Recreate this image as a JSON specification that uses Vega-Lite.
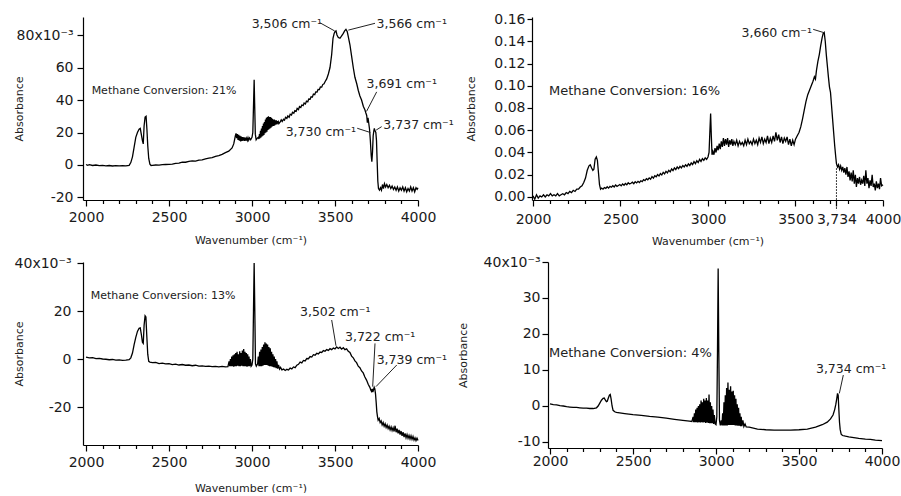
{
"$schema": "https://vega.github.io/schema/vega-lite/v6.json",
"padding": {"left": 13, "top": 12, "right": 0, "bottom": 0},
"config": {
  "view": {"stroke": null},
  "font": "DejaVu Sans",
  "axis": {"grid": false, "domainColor": "#000", "tickColor": "#000", "labelColor": "#1a1a1a", "titleColor": "#222", "labelFont": "DejaVu Sans", "titleFont": "DejaVu Sans", "labelFontSize": 14, "titleFontSize": 11, "titleFontWeight": "normal", "labelOverlap": false, "labelFlush": false, "labelBound": false, "domainWidth": 1.2, "tickWidth": 1.2}
},
"datasets": {
"p1": [{"w":2000,"a":0.3},{"w":2010,"a":-0.2},{"w":2020,"a":0.2},{"w":2040,"a":-0.3},{"w":2060,"a":0},{"w":2080,"a":-0.4},{"w":2100,"a":-0.2},{"w":2120,"a":-0.5},{"w":2140,"a":-0.3},{"w":2160,"a":-0.6},{"w":2180,"a":-0.4},{"w":2200,"a":-0.5},{"w":2220,"a":-0.4},{"w":2240,"a":-0.5},{"w":2260,"a":-0.2},{"w":2270,"a":1.5},{"w":2280,"a":5},{"w":2290,"a":11},{"w":2300,"a":17},{"w":2310,"a":20},{"w":2320,"a":22},{"w":2327,"a":22.5},{"w":2333,"a":19},{"w":2340,"a":15},{"w":2345,"a":13},{"w":2350,"a":24},{"w":2356,"a":29.5},{"w":2362,"a":30},{"w":2367,"a":22},{"w":2372,"a":12},{"w":2378,"a":4},{"w":2385,"a":0.5},{"w":2392,"a":-0.3},{"w":2400,"a":-0.2},{"w":2420,"a":0},{"w":2440,"a":-0.1},{"w":2460,"a":0.2},{"w":2480,"a":0.3},{"w":2500,"a":0.4},{"w":2520,"a":0.6},{"w":2540,"a":1},{"w":2560,"a":1.2},{"w":2580,"a":1.8},{"w":2600,"a":1.7},{"w":2620,"a":2.2},{"w":2640,"a":2.5},{"w":2660,"a":2.4},{"w":2680,"a":3},{"w":2700,"a":3.2},{"w":2720,"a":3.8},{"w":2740,"a":4.2},{"w":2760,"a":4.5},{"w":2780,"a":5.3},{"w":2800,"a":5.8},{"w":2820,"a":6.5},{"w":2840,"a":7.6},{"w":2860,"a":8.5},{"w":2880,"a":10.5},{"w":2890,"a":13},{"w":2900,"a":18},{"w":2904,"a":19.5},{"w":2908,"a":16.5},{"w":2912,"a":19},{"w":2916,"a":15.5},{"w":2920,"a":18.5},{"w":2924,"a":15},{"w":2928,"a":18},{"w":2932,"a":14.5},{"w":2936,"a":17.5},{"w":2940,"a":14.8},{"w":2944,"a":17.2},{"w":2948,"a":15},{"w":2952,"a":17},{"w":2956,"a":14.8},{"w":2960,"a":16.8},{"w":2964,"a":15},{"w":2968,"a":16.5},{"w":2972,"a":15.2},{"w":2976,"a":16.8},{"w":2980,"a":15.3},{"w":2985,"a":16.6},{"w":2992,"a":15.5},{"w":3000,"a":17},{"w":3005,"a":20},{"w":3010,"a":40},{"w":3013,"a":52.5},{"w":3016,"a":38},{"w":3020,"a":19},{"w":3025,"a":15.5},{"w":3032,"a":16.5},{"w":3038,"a":17},{"w":3042,"a":16},{"w":3045,"a":19},{"w":3048,"a":16.5},{"w":3051,"a":21},{"w":3054,"a":17},{"w":3057,"a":22.5},{"w":3060,"a":17.5},{"w":3063,"a":24},{"w":3066,"a":18},{"w":3069,"a":25.5},{"w":3072,"a":18.5},{"w":3075,"a":26.5},{"w":3078,"a":19.5},{"w":3081,"a":28},{"w":3084,"a":20},{"w":3087,"a":29},{"w":3090,"a":20.5},{"w":3093,"a":29.5},{"w":3096,"a":21.5},{"w":3099,"a":30},{"w":3102,"a":22},{"w":3105,"a":29.5},{"w":3108,"a":22.5},{"w":3111,"a":29.5},{"w":3114,"a":23},{"w":3117,"a":29},{"w":3120,"a":23.5},{"w":3123,"a":28.5},{"w":3126,"a":24},{"w":3129,"a":28},{"w":3132,"a":24},{"w":3135,"a":28},{"w":3138,"a":24.5},{"w":3141,"a":27.5},{"w":3144,"a":25},{"w":3147,"a":27.5},{"w":3150,"a":25},{"w":3153,"a":27},{"w":3156,"a":25.5},{"w":3159,"a":26.5},{"w":3162,"a":25.5},{"w":3170,"a":26.5},{"w":3176,"a":27.8},{"w":3182,"a":26.8},{"w":3190,"a":28.2},{"w":3196,"a":27.6},{"w":3202,"a":29.3},{"w":3210,"a":28.7},{"w":3216,"a":30.2},{"w":3224,"a":29.4},{"w":3230,"a":31.3},{"w":3238,"a":30.8},{"w":3244,"a":32.5},{"w":3252,"a":31.9},{"w":3258,"a":33.4},{"w":3266,"a":33},{"w":3272,"a":34.8},{"w":3280,"a":34.1},{"w":3286,"a":36},{"w":3294,"a":35.4},{"w":3300,"a":36.9},{"w":3308,"a":36.5},{"w":3314,"a":38.2},{"w":3322,"a":37.6},{"w":3328,"a":39.3},{"w":3336,"a":38.9},{"w":3342,"a":40.6},{"w":3350,"a":40.5},{"w":3356,"a":42},{"w":3364,"a":41.8},{"w":3370,"a":43.6},{"w":3378,"a":43.3},{"w":3384,"a":45},{"w":3392,"a":44.9},{"w":3398,"a":46.5},{"w":3406,"a":46.4},{"w":3412,"a":48},{"w":3420,"a":47.9},{"w":3426,"a":49.5},{"w":3434,"a":50},{"w":3440,"a":51.2},{"w":3450,"a":53},{"w":3460,"a":56},{"w":3470,"a":60},{"w":3480,"a":68},{"w":3488,"a":78},{"w":3495,"a":81},{"w":3500,"a":82},{"w":3506,"a":82.5},{"w":3512,"a":80},{"w":3520,"a":78.5},{"w":3530,"a":78},{"w":3540,"a":79.5},{"w":3550,"a":81},{"w":3558,"a":82.5},{"w":3566,"a":83.5},{"w":3574,"a":82},{"w":3580,"a":79},{"w":3590,"a":74},{"w":3600,"a":67},{"w":3610,"a":60},{"w":3620,"a":54},{"w":3631,"a":50},{"w":3640,"a":46},{"w":3650,"a":42.5},{"w":3660,"a":40},{"w":3671,"a":36},{"w":3680,"a":34},{"w":3686,"a":32},{"w":3691,"a":30.5},{"w":3695,"a":26},{"w":3699,"a":29},{"w":3703,"a":26},{"w":3708,"a":22},{"w":3713,"a":15},{"w":3718,"a":6},{"w":3722,"a":2},{"w":3726,"a":8},{"w":3730,"a":18},{"w":3734,"a":21},{"w":3737,"a":22.5},{"w":3741,"a":21},{"w":3746,"a":20},{"w":3750,"a":15},{"w":3754,"a":2},{"w":3758,"a":-10},{"w":3762,"a":-14.5},{"w":3768,"a":-15.5},{"w":3774,"a":-14},{"w":3780,"a":-15.5},{"w":3786,"a":-12},{"w":3792,"a":-14.5},{"w":3798,"a":-11.5},{"w":3805,"a":-13.5},{"w":3812,"a":-12},{"w":3820,"a":-14},{"w":3828,"a":-12.5},{"w":3836,"a":-14.5},{"w":3844,"a":-13},{"w":3852,"a":-15},{"w":3860,"a":-13.5},{"w":3868,"a":-15.5},{"w":3876,"a":-13.5},{"w":3884,"a":-16},{"w":3892,"a":-14},{"w":3900,"a":-15.5},{"w":3908,"a":-13.5},{"w":3916,"a":-16},{"w":3924,"a":-14},{"w":3932,"a":-16.5},{"w":3940,"a":-14.5},{"w":3948,"a":-16},{"w":3956,"a":-13.5},{"w":3964,"a":-16},{"w":3972,"a":-14},{"w":3980,"a":-16.5},{"w":3988,"a":-14},{"w":3995,"a":-15},{"w":4000,"a":-14}],
"p2": [{"w":2000,"a":0.001},{"w":2010,"a":-0.002},{"w":2020,"a":0.002},{"w":2030,"a":-0.001},{"w":2040,"a":0.001},{"w":2050,"a":0.0},{"w":2060,"a":0.002},{"w":2070,"a":0.0},{"w":2080,"a":0.002},{"w":2090,"a":0.001},{"w":2100,"a":0.003},{"w":2110,"a":0.001},{"w":2120,"a":0.002},{"w":2130,"a":0.001},{"w":2140,"a":0.003},{"w":2150,"a":0.001},{"w":2160,"a":0.002},{"w":2170,"a":0.003},{"w":2180,"a":0.002},{"w":2190,"a":0.004},{"w":2200,"a":0.003},{"w":2210,"a":0.005},{"w":2220,"a":0.004},{"w":2230,"a":0.006},{"w":2240,"a":0.005},{"w":2250,"a":0.007},{"w":2260,"a":0.007},{"w":2270,"a":0.009},{"w":2280,"a":0.010},{"w":2290,"a":0.013},{"w":2300,"a":0.017},{"w":2310,"a":0.024},{"w":2320,"a":0.028},{"w":2327,"a":0.029},{"w":2335,"a":0.026},{"w":2342,"a":0.024},{"w":2348,"a":0.025},{"w":2355,"a":0.034},{"w":2362,"a":0.036},{"w":2368,"a":0.033},{"w":2374,"a":0.022},{"w":2380,"a":0.011},{"w":2386,"a":0.007},{"w":2392,"a":0.008},{"w":2400,"a":0.0070},{"w":2408,"a":0.0085},{"w":2416,"a":0.0078},{"w":2424,"a":0.0092},{"w":2432,"a":0.0080},{"w":2440,"a":0.0095},{"w":2448,"a":0.0088},{"w":2456,"a":0.0101},{"w":2464,"a":0.0090},{"w":2472,"a":0.0108},{"w":2480,"a":0.0096},{"w":2488,"a":0.0104},{"w":2496,"a":0.0112},{"w":2504,"a":0.0100},{"w":2512,"a":0.0118},{"w":2520,"a":0.0106},{"w":2528,"a":0.0121},{"w":2536,"a":0.0110},{"w":2544,"a":0.0128},{"w":2552,"a":0.0117},{"w":2560,"a":0.0124},{"w":2568,"a":0.0133},{"w":2576,"a":0.0120},{"w":2584,"a":0.0138},{"w":2592,"a":0.0127},{"w":2600,"a":0.0141},{"w":2608,"a":0.0130},{"w":2616,"a":0.0146},{"w":2624,"a":0.0139},{"w":2632,"a":0.0156},{"w":2640,"a":0.0148},{"w":2648,"a":0.0165},{"w":2656,"a":0.0155},{"w":2664,"a":0.0172},{"w":2672,"a":0.0160},{"w":2680,"a":0.0184},{"w":2688,"a":0.0170},{"w":2696,"a":0.0192},{"w":2704,"a":0.0181},{"w":2712,"a":0.0201},{"w":2720,"a":0.0189},{"w":2728,"a":0.0210},{"w":2736,"a":0.0198},{"w":2744,"a":0.0222},{"w":2752,"a":0.0208},{"w":2760,"a":0.0231},{"w":2768,"a":0.0217},{"w":2776,"a":0.0240},{"w":2784,"a":0.0226},{"w":2792,"a":0.0252},{"w":2800,"a":0.0238},{"w":2808,"a":0.0262},{"w":2816,"a":0.0247},{"w":2824,"a":0.0270},{"w":2832,"a":0.0255},{"w":2840,"a":0.0276},{"w":2848,"a":0.0262},{"w":2856,"a":0.0283},{"w":2864,"a":0.0270},{"w":2872,"a":0.0290},{"w":2880,"a":0.0276},{"w":2888,"a":0.0298},{"w":2896,"a":0.0283},{"w":2904,"a":0.0306},{"w":2912,"a":0.0292},{"w":2920,"a":0.0318},{"w":2928,"a":0.0300},{"w":2936,"a":0.0326},{"w":2944,"a":0.0310},{"w":2952,"a":0.0338},{"w":2960,"a":0.0320},{"w":2968,"a":0.0345},{"w":2976,"a":0.0330},{"w":2984,"a":0.0352},{"w":2992,"a":0.0338},{"w":3000,"a":0.0360},{"w":3006,"a":0.040},{"w":3011,"a":0.060},{"w":3015,"a":0.075},{"w":3019,"a":0.055},{"w":3023,"a":0.038},{"w":3028,"a":0.041},{"w":3034,"a":0.038},{"w":3040,"a":0.044},{"w":3046,"a":0.040},{"w":3052,"a":0.046},{"w":3058,"a":0.042},{"w":3064,"a":0.048},{"w":3070,"a":0.043},{"w":3076,"a":0.050},{"w":3082,"a":0.045},{"w":3088,"a":0.053},{"w":3094,"a":0.046},{"w":3100,"a":0.052},{"w":3106,"a":0.047},{"w":3112,"a":0.053},{"w":3118,"a":0.045},{"w":3124,"a":0.051},{"w":3130,"a":0.047},{"w":3136,"a":0.052},{"w":3142,"a":0.046},{"w":3148,"a":0.050},{"w":3156,"a":0.047},{"w":3164,"a":0.051},{"w":3172,"a":0.046},{"w":3180,"a":0.050},{"w":3188,"a":0.047},{"w":3196,"a":0.049},{"w":3204,"a":0.046},{"w":3212,"a":0.051},{"w":3220,"a":0.047},{"w":3228,"a":0.052},{"w":3236,"a":0.048},{"w":3244,"a":0.050},{"w":3252,"a":0.047},{"w":3260,"a":0.052},{"w":3268,"a":0.048},{"w":3276,"a":0.051},{"w":3284,"a":0.047},{"w":3292,"a":0.053},{"w":3300,"a":0.049},{"w":3308,"a":0.054},{"w":3316,"a":0.048},{"w":3324,"a":0.052},{"w":3332,"a":0.049},{"w":3340,"a":0.055},{"w":3348,"a":0.048},{"w":3356,"a":0.053},{"w":3364,"a":0.049},{"w":3372,"a":0.055},{"w":3380,"a":0.050},{"w":3388,"a":0.058},{"w":3396,"a":0.051},{"w":3404,"a":0.056},{"w":3412,"a":0.049},{"w":3420,"a":0.054},{"w":3428,"a":0.048},{"w":3436,"a":0.053},{"w":3444,"a":0.050},{"w":3452,"a":0.054},{"w":3460,"a":0.047},{"w":3468,"a":0.052},{"w":3476,"a":0.046},{"w":3484,"a":0.051},{"w":3492,"a":0.047},{"w":3500,"a":0.052},{"w":3510,"a":0.055},{"w":3520,"a":0.058},{"w":3530,"a":0.063},{"w":3540,"a":0.070},{"w":3550,"a":0.078},{"w":3560,"a":0.086},{"w":3570,"a":0.092},{"w":3580,"a":0.096},{"w":3590,"a":0.100},{"w":3600,"a":0.104},{"w":3608,"a":0.108},{"w":3614,"a":0.106},{"w":3620,"a":0.114},{"w":3628,"a":0.122},{"w":3636,"a":0.128},{"w":3644,"a":0.136},{"w":3652,"a":0.143},{"w":3658,"a":0.147},{"w":3664,"a":0.148},{"w":3670,"a":0.140},{"w":3676,"a":0.128},{"w":3682,"a":0.118},{"w":3688,"a":0.108},{"w":3694,"a":0.099},{"w":3700,"a":0.094},{"w":3706,"a":0.082},{"w":3712,"a":0.070},{"w":3718,"a":0.058},{"w":3724,"a":0.046},{"w":3730,"a":0.036},{"w":3734,"a":0.030},{"w":3740,"a":0.027},{"w":3746,"a":0.029},{"w":3752,"a":0.025},{"w":3758,"a":0.028},{"w":3764,"a":0.024},{"w":3770,"a":0.027},{"w":3776,"a":0.022},{"w":3782,"a":0.026},{"w":3788,"a":0.020},{"w":3794,"a":0.027},{"w":3800,"a":0.018},{"w":3806,"a":0.023},{"w":3812,"a":0.015},{"w":3818,"a":0.022},{"w":3824,"a":0.014},{"w":3830,"a":0.024},{"w":3836,"a":0.012},{"w":3842,"a":0.020},{"w":3848,"a":0.009},{"w":3854,"a":0.017},{"w":3860,"a":0.012},{"w":3866,"a":0.018},{"w":3872,"a":0.011},{"w":3878,"a":0.015},{"w":3884,"a":0.012},{"w":3890,"a":0.019},{"w":3896,"a":0.010},{"w":3902,"a":0.024},{"w":3908,"a":0.012},{"w":3914,"a":0.017},{"w":3920,"a":0.008},{"w":3926,"a":0.015},{"w":3932,"a":0.010},{"w":3938,"a":0.020},{"w":3944,"a":0.009},{"w":3950,"a":0.012},{"w":3956,"a":0.006},{"w":3962,"a":0.014},{"w":3968,"a":0.008},{"w":3974,"a":0.012},{"w":3980,"a":0.007},{"w":3986,"a":0.017},{"w":3992,"a":0.010},{"w":4000,"a":0.011}],
"p3": [{"w":2000,"a":0.8},{"w":2020,"a":0.5},{"w":2040,"a":0.6},{"w":2060,"a":0.2},{"w":2080,"a":0.3},{"w":2100,"a":0},{"w":2120,"a":-0.1},{"w":2140,"a":-0.3},{"w":2160,"a":-0.2},{"w":2180,"a":-0.5},{"w":2200,"a":-0.4},{"w":2220,"a":-0.6},{"w":2240,"a":-0.5},{"w":2260,"a":-0.3},{"w":2270,"a":0.5},{"w":2280,"a":2.5},{"w":2290,"a":6},{"w":2300,"a":9},{"w":2310,"a":11.5},{"w":2320,"a":12.8},{"w":2327,"a":13},{"w":2334,"a":10},{"w":2340,"a":7},{"w":2345,"a":6.5},{"w":2350,"a":14},{"w":2356,"a":18},{"w":2361,"a":17.5},{"w":2366,"a":10},{"w":2372,"a":2},{"w":2378,"a":-1},{"w":2385,"a":-1.3},{"w":2400,"a":-1.5},{"w":2420,"a":-1.4},{"w":2440,"a":-1.9},{"w":2460,"a":-1.7},{"w":2480,"a":-2},{"w":2500,"a":-1.9},{"w":2520,"a":-2.3},{"w":2540,"a":-2.1},{"w":2560,"a":-2.5},{"w":2580,"a":-2.3},{"w":2600,"a":-2.6},{"w":2620,"a":-2.5},{"w":2640,"a":-2.8},{"w":2660,"a":-2.6},{"w":2680,"a":-3},{"w":2700,"a":-2.9},{"w":2720,"a":-3.1},{"w":2740,"a":-3},{"w":2760,"a":-3.2},{"w":2780,"a":-3.1},{"w":2800,"a":-3.3},{"w":2820,"a":-3.1},{"w":2840,"a":-3.3},{"w":2855,"a":-3.2},{"w":2862,"a":-1},{"w":2866,"a":-3},{"w":2870,"a":0},{"w":2874,"a":-3},{"w":2878,"a":1},{"w":2882,"a":-3},{"w":2886,"a":1.5},{"w":2890,"a":-3.2},{"w":2894,"a":2},{"w":2898,"a":-3},{"w":2902,"a":2.5},{"w":2906,"a":-3},{"w":2910,"a":3},{"w":2914,"a":-2.8},{"w":2918,"a":2},{"w":2922,"a":-3},{"w":2926,"a":3.2},{"w":2930,"a":-3},{"w":2934,"a":2.5},{"w":2938,"a":-2.8},{"w":2942,"a":3.5},{"w":2946,"a":-3},{"w":2950,"a":4.2},{"w":2954,"a":-3},{"w":2958,"a":3},{"w":2962,"a":-3},{"w":2966,"a":2.5},{"w":2970,"a":-3.2},{"w":2974,"a":2},{"w":2978,"a":-3},{"w":2982,"a":1},{"w":2986,"a":-3},{"w":2990,"a":0},{"w":2995,"a":-3},{"w":3000,"a":-2.5},{"w":3005,"a":0},{"w":3009,"a":20},{"w":3013,"a":40},{"w":3017,"a":20},{"w":3021,"a":-2},{"w":3026,"a":-3},{"w":3034,"a":-2},{"w":3038,"a":1},{"w":3042,"a":-3},{"w":3046,"a":3},{"w":3050,"a":-3},{"w":3054,"a":4},{"w":3058,"a":-3},{"w":3062,"a":5},{"w":3066,"a":-2.8},{"w":3070,"a":6},{"w":3074,"a":-2.5},{"w":3078,"a":7},{"w":3082,"a":-2.5},{"w":3086,"a":6.5},{"w":3090,"a":-2.5},{"w":3094,"a":6},{"w":3098,"a":-2.8},{"w":3102,"a":5},{"w":3106,"a":-3},{"w":3110,"a":4.5},{"w":3114,"a":-3},{"w":3118,"a":3},{"w":3122,"a":-3.2},{"w":3126,"a":2},{"w":3130,"a":-3.4},{"w":3134,"a":1},{"w":3138,"a":-3.5},{"w":3142,"a":0},{"w":3146,"a":-3.8},{"w":3150,"a":-1},{"w":3155,"a":-4},{"w":3160,"a":-2.5},{"w":3166,"a":-4.2},{"w":3172,"a":-3.5},{"w":3180,"a":-4.5},{"w":3190,"a":-4.2},{"w":3200,"a":-4.8},{"w":3210,"a":-4.3},{"w":3220,"a":-4.6},{"w":3230,"a":-3.8},{"w":3240,"a":-4.1},{"w":3250,"a":-3.3},{"w":3260,"a":-3.6},{"w":3270,"a":-2.6},{"w":3280,"a":-2.2},{"w":3290,"a":-1.3},{"w":3300,"a":-1.6},{"w":3310,"a":-0.6},{"w":3320,"a":-0.8},{"w":3330,"a":0.2},{"w":3340,"a":0.1},{"w":3350,"a":1},{"w":3360,"a":0.8},{"w":3370,"a":1.8},{"w":3380,"a":1.6},{"w":3390,"a":2.4},{"w":3400,"a":2.1},{"w":3410,"a":2.9},{"w":3420,"a":2.7},{"w":3430,"a":3.5},{"w":3440,"a":3.2},{"w":3450,"a":3.9},{"w":3460,"a":3.6},{"w":3470,"a":4.3},{"w":3480,"a":3.9},{"w":3490,"a":4.6},{"w":3500,"a":4.2},{"w":3510,"a":5},{"w":3520,"a":4.4},{"w":3530,"a":4.9},{"w":3540,"a":4.1},{"w":3550,"a":4.7},{"w":3560,"a":3.9},{"w":3570,"a":4.2},{"w":3580,"a":3.2},{"w":3590,"a":2.7},{"w":3600,"a":1.2},{"w":3610,"a":0.5},{"w":3620,"a":-0.8},{"w":3630,"a":-1.5},{"w":3640,"a":-3},{"w":3650,"a":-3.6},{"w":3660,"a":-5},{"w":3670,"a":-5.8},{"w":3680,"a":-7.5},{"w":3690,"a":-8.8},{"w":3700,"a":-10.5},{"w":3710,"a":-11.8},{"w":3716,"a":-13},{"w":3720,"a":-13.5},{"w":3724,"a":-12.5},{"w":3728,"a":-13.8},{"w":3732,"a":-12.8},{"w":3736,"a":-11.8},{"w":3740,"a":-12.5},{"w":3744,"a":-14.5},{"w":3748,"a":-18},{"w":3752,"a":-22},{"w":3756,"a":-24},{"w":3760,"a":-25.5},{"w":3766,"a":-24.8},{"w":3772,"a":-26.5},{"w":3778,"a":-25.8},{"w":3784,"a":-27.5},{"w":3790,"a":-26.5},{"w":3796,"a":-28},{"w":3802,"a":-27},{"w":3808,"a":-28.5},{"w":3814,"a":-27.5},{"w":3820,"a":-29},{"w":3826,"a":-28},{"w":3832,"a":-29.5},{"w":3838,"a":-28.3},{"w":3844,"a":-29.8},{"w":3850,"a":-28.6},{"w":3856,"a":-30.2},{"w":3862,"a":-27.8},{"w":3868,"a":-30.5},{"w":3874,"a":-29},{"w":3880,"a":-31},{"w":3886,"a":-29.5},{"w":3892,"a":-31.5},{"w":3898,"a":-30},{"w":3904,"a":-32},{"w":3910,"a":-30.5},{"w":3916,"a":-32.5},{"w":3922,"a":-31},{"w":3928,"a":-32.8},{"w":3934,"a":-31.5},{"w":3940,"a":-33},{"w":3946,"a":-31.8},{"w":3952,"a":-33.3},{"w":3958,"a":-32},{"w":3964,"a":-33.5},{"w":3970,"a":-32.3},{"w":3976,"a":-33.8},{"w":3982,"a":-32.8},{"w":3988,"a":-34},{"w":3994,"a":-33},{"w":4000,"a":-34}],
"p4": [{"w":2000,"a":0.6},{"w":2020,"a":0.4},{"w":2040,"a":0.3},{"w":2060,"a":0.1},{"w":2080,"a":0},{"w":2100,"a":-0.2},{"w":2120,"a":-0.3},{"w":2140,"a":-0.4},{"w":2160,"a":-0.4},{"w":2180,"a":-0.5},{"w":2200,"a":-0.6},{"w":2220,"a":-0.6},{"w":2240,"a":-0.7},{"w":2260,"a":-0.7},{"w":2280,"a":-0.5},{"w":2290,"a":0},{"w":2300,"a":0.8},{"w":2310,"a":1.6},{"w":2320,"a":2.1},{"w":2327,"a":2.2},{"w":2334,"a":1.6},{"w":2340,"a":1.2},{"w":2345,"a":1.3},{"w":2352,"a":2.3},{"w":2358,"a":3},{"w":2363,"a":3.2},{"w":2368,"a":2},{"w":2374,"a":0},{"w":2380,"a":-1.2},{"w":2390,"a":-1.6},{"w":2400,"a":-1.8},{"w":2450,"a":-2.1},{"w":2500,"a":-2.4},{"w":2550,"a":-2.6},{"w":2600,"a":-2.9},{"w":2650,"a":-3.1},{"w":2700,"a":-3.4},{"w":2750,"a":-3.7},{"w":2800,"a":-4},{"w":2840,"a":-4.2},{"w":2855,"a":-4.3},{"w":2862,"a":-3},{"w":2866,"a":-4.5},{"w":2870,"a":-2},{"w":2874,"a":-4.5},{"w":2878,"a":-1},{"w":2882,"a":-4.5},{"w":2886,"a":-0.5},{"w":2890,"a":-4.6},{"w":2894,"a":0},{"w":2898,"a":-4.5},{"w":2902,"a":0.5},{"w":2906,"a":-4.6},{"w":2910,"a":1.5},{"w":2914,"a":-4.5},{"w":2918,"a":1},{"w":2922,"a":-4.6},{"w":2926,"a":2},{"w":2930,"a":-4.5},{"w":2934,"a":1.5},{"w":2938,"a":-4.7},{"w":2942,"a":2.2},{"w":2946,"a":-4.6},{"w":2950,"a":1.5},{"w":2954,"a":-4.7},{"w":2958,"a":3.2},{"w":2962,"a":-4.8},{"w":2966,"a":1},{"w":2970,"a":-4.8},{"w":2974,"a":0},{"w":2978,"a":-4.8},{"w":2982,"a":-1},{"w":2986,"a":-5},{"w":2990,"a":-2.5},{"w":2995,"a":-5},{"w":3000,"a":-5.2},{"w":3005,"a":-3},{"w":3009,"a":15},{"w":3013,"a":38.2},{"w":3017,"a":15},{"w":3021,"a":-4},{"w":3026,"a":-5.4},{"w":3032,"a":-4},{"w":3036,"a":-5.4},{"w":3040,"a":-2},{"w":3044,"a":-5.4},{"w":3048,"a":1},{"w":3052,"a":-5.4},{"w":3056,"a":3},{"w":3060,"a":-5.4},{"w":3064,"a":5},{"w":3068,"a":-5.4},{"w":3072,"a":6.5},{"w":3076,"a":-5.3},{"w":3080,"a":4.5},{"w":3084,"a":-5.3},{"w":3088,"a":5.5},{"w":3092,"a":-5.3},{"w":3096,"a":4},{"w":3100,"a":-5.3},{"w":3104,"a":4.2},{"w":3108,"a":-5.3},{"w":3112,"a":3},{"w":3116,"a":-5.4},{"w":3120,"a":2},{"w":3124,"a":-5.4},{"w":3128,"a":0.5},{"w":3132,"a":-5.5},{"w":3136,"a":-0.5},{"w":3140,"a":-5.5},{"w":3144,"a":-2},{"w":3148,"a":-5.6},{"w":3152,"a":-3},{"w":3156,"a":-5.6},{"w":3162,"a":-4},{"w":3168,"a":-5.7},{"w":3175,"a":-5},{"w":3182,"a":-5.8},{"w":3200,"a":-5.9},{"w":3250,"a":-6.4},{"w":3300,"a":-6.6},{"w":3350,"a":-6.7},{"w":3400,"a":-6.7},{"w":3450,"a":-6.7},{"w":3500,"a":-6.6},{"w":3550,"a":-6.4},{"w":3600,"a":-5.9},{"w":3640,"a":-5.2},{"w":3670,"a":-4.5},{"w":3690,"a":-3.6},{"w":3705,"a":-2.5},{"w":3715,"a":-1},{"w":3722,"a":0.5},{"w":3728,"a":2.2},{"w":3732,"a":3.5},{"w":3736,"a":3},{"w":3740,"a":-1},{"w":3744,"a":-4.5},{"w":3748,"a":-6.5},{"w":3754,"a":-7.8},{"w":3762,"a":-8.2},{"w":3780,"a":-8.4},{"w":3800,"a":-8.6},{"w":3830,"a":-8.8},{"w":3860,"a":-9},{"w":3900,"a":-9.2},{"w":3930,"a":-9.3},{"w":3960,"a":-9.5},{"w":4000,"a":-9.6}]
},
"spacing": 9,
"vconcat": [
 {"hconcat": [
  {"width": 335, "height": 183,
   "encoding": {
     "x": {"field": "w", "type": "quantitative", "scale": {"domain": [1982, 4000], "nice": false, "zero": false},
       "axis": {"title": "Wavenumber (cm⁻¹)", "values": [2000,2100,2200,2300,2400,2500,2600,2700,2800,2900,3000,3100,3200,3300,3400,3500,3600,3700,3800,3900,4000], "labelExpr": "datum.value % 500 === 0 ? '' + datum.value : ''", "tickSize": {"condition": {"test": "datum.value % 500 === 0", "value": 6}, "value": 3.5}, "labelPadding": 4, "titlePadding": 10}},
     "y": {"field": "a", "type": "quantitative", "scale": {"domain": [-21.54, 91.08], "nice": false, "zero": false},
       "axis": {"title": "Absorbance", "values": [-20,0,20,40,60,80], "labelExpr": "datum.value === 80 ? '80x10⁻³' : '' + datum.value", "tickSize": 6, "labelPadding": 4, "minExtent": 55, "maxExtent": 55, "titlePadding": 4}}
   },
   "layer": [
     {"data": {"name": "p1"}, "mark": {"type": "line", "color": "#000", "strokeWidth": 1.3}},
     {"data": {"values": [{"w": 2034, "a": 45.7, "label": "Methane Conversion: 21%"}]}, "mark": {"type": "text", "align": "left", "baseline": "middle", "fontSize": 11, "color": "#222"}, "encoding": {"text": {"field": "label"}}},
     {"data": {"values": [{"w": 3750, "a": 86.6, "label": "3,566 cm⁻¹"}, {"w": 3690, "a": 50, "label": "3,691 cm⁻¹"}, {"w": 3791, "a": 24.6, "label": "3,737 cm⁻¹"}]}, "mark": {"type": "text", "align": "left", "baseline": "middle", "fontSize": 12.5, "color": "#222"}, "encoding": {"text": {"field": "label"}}},
     {"data": {"values": [{"w": 3422, "a": 86.6, "label": "3,506 cm⁻¹"}, {"w": 3627, "a": 20.5, "label": "3,730 cm⁻¹"}]}, "mark": {"type": "text", "align": "right", "baseline": "middle", "fontSize": 12.5, "color": "#222"}, "encoding": {"text": {"field": "label"}}},
     {"data": {"values": [{"w":3410,"a":87.5,"w2":3498,"a2":82.5},{"w":3741,"a":87.2,"w2":3580,"a2":83},{"w":3751,"a":45,"w2":3690,"a2":33},{"w":3634,"a":22.6,"w2":3713,"a2":20},{"w":3781,"a":23.6,"w2":3748,"a2":21.5}]}, "mark": {"type": "rule", "color": "#222", "strokeWidth": 1}, "encoding": {"x2": {"field": "w2"}, "y2": {"field": "a2"}}}
   ]
  },
  {"width": 351, "height": 183,
   "encoding": {
     "x": {"field": "w", "type": "quantitative", "scale": {"domain": [1994.3, 4000], "nice": false, "zero": false},
       "axis": {"title": "Wavenumber (cm⁻¹)", "values": [2000,2100,2200,2300,2400,2500,2600,2700,2800,2900,3000,3100,3200,3300,3400,3500,3600,3700,3734,3800,3900,4000], "labelExpr": "datum.value === 3734 ? '3,734' : (datum.value % 500 === 0 ? '' + datum.value : '')", "tickSize": {"condition": {"test": "datum.value % 500 === 0 || datum.value === 3734", "value": 6}, "value": 3.5}, "labelPadding": 6, "titlePadding": 9}},
     "y": {"field": "a", "type": "quantitative", "scale": {"domain": [-0.0027, 0.1618], "nice": false, "zero": false},
       "axis": {"title": "Absorbance", "values": [0,0.02,0.04,0.06,0.08,0.1,0.12,0.14,0.16], "format": ".2f", "tickSize": 5, "labelPadding": 2, "minExtent": 52, "maxExtent": 52, "titlePadding": 4}}
   },
   "layer": [
     {"data": {"name": "p2"}, "mark": {"type": "line", "color": "#000", "strokeWidth": 1.3}},
     {"data": {"values": [{"w": 3734, "a": 0.0258, "w2": 3734, "a2": -0.012}]}, "mark": {"type": "rule", "color": "#000", "strokeWidth": 1, "strokeDash": [1.5, 1.5]}, "encoding": {"x2": {"field": "w2"}, "y2": {"field": "a2"}}},
     {"data": {"values": [{"w": 2091, "a": 0.0955, "label": "Methane Conversion: 16%"}]}, "mark": {"type": "text", "align": "left", "baseline": "middle", "fontSize": 13, "color": "#222"}, "encoding": {"text": {"field": "label"}}},
     {"data": {"values": [{"w": 3594, "a": 0.1471, "label": "3,660 cm⁻¹"}]}, "mark": {"type": "text", "align": "right", "baseline": "middle", "fontSize": 12.5, "color": "#222"}, "encoding": {"text": {"field": "label"}}},
     {"data": {"values": [{"w":3601,"a":0.1507,"w2":3663,"a2":0.1477}]}, "mark": {"type": "rule", "color": "#222", "strokeWidth": 1}, "encoding": {"x2": {"field": "w2"}, "y2": {"field": "a2"}}}
   ]
  }
 ], "spacing": 114, "bounds": "flush"},
 {"hconcat": [
  {"width": 335, "height": 183,
   "encoding": {
     "x": {"field": "w", "type": "quantitative", "scale": {"domain": [1982, 4000], "nice": false, "zero": false},
       "axis": {"title": "Wavenumber (cm⁻¹)", "values": [2000,2100,2200,2300,2400,2500,2600,2700,2800,2900,3000,3100,3200,3300,3400,3500,3600,3700,3800,3900,4000], "labelExpr": "datum.value % 500 === 0 ? '' + datum.value : ''", "tickSize": {"condition": {"test": "datum.value % 500 === 0", "value": 6}, "value": 3.5}, "labelPadding": 4, "titlePadding": 13}},
     "y": {"field": "a", "type": "quantitative", "scale": {"domain": [-35.83, 40.42], "nice": false, "zero": false},
       "axis": {"title": "Absorbance", "values": [-20,0,20,40], "labelExpr": "datum.value === 40 ? '40x10⁻³' : '' + datum.value", "tickSize": 6, "labelPadding": 6, "minExtent": 55, "maxExtent": 55, "titlePadding": 4}}
   },
   "layer": [
     {"data": {"name": "p3"}, "mark": {"type": "line", "color": "#000", "strokeWidth": 1.3}},
     {"data": {"values": [{"w": 2028, "a": 26.25, "label": "Methane Conversion: 13%"}]}, "mark": {"type": "text", "align": "left", "baseline": "middle", "fontSize": 11, "color": "#222"}, "encoding": {"text": {"field": "label"}}},
     {"data": {"values": [{"w": 3289, "a": 19.7, "label": "3,502 cm⁻¹"}, {"w": 3560, "a": 9.3, "label": "3,722 cm⁻¹"}, {"w": 3751, "a": -0.4, "label": "3,739 cm⁻¹"}]}, "mark": {"type": "text", "align": "left", "baseline": "middle", "fontSize": 12.5, "color": "#222"}, "encoding": {"text": {"field": "label"}}},
     {"data": {"values": [{"w":3480,"a":16.25,"w2":3506,"a2":5.5},{"w":3741,"a":6.5,"w2":3727,"a2":-11.5},{"w":3872,"a":-2.5,"w2":3747,"a2":-11.5}]}, "mark": {"type": "rule", "color": "#222", "strokeWidth": 1}, "encoding": {"x2": {"field": "w2"}, "y2": {"field": "a2"}}}
   ]
  },
  {"width": 334, "height": 186,
   "encoding": {
     "x": {"field": "w", "type": "quantitative", "scale": {"domain": [1988, 4000], "nice": false, "zero": false},
       "axis": {"title": null, "values": [2000,2100,2200,2300,2400,2500,2600,2700,2800,2900,3000,3100,3200,3300,3400,3500,3600,3700,3800,3900,4000], "labelExpr": "datum.value % 500 === 0 ? '' + datum.value : ''", "tickSize": {"condition": {"test": "datum.value % 500 === 0", "value": 6}, "value": 3.5}, "labelPadding": 0}},
     "y": {"field": "a", "type": "quantitative", "scale": {"domain": [-11.67, 40], "nice": false, "zero": false},
       "axis": {"title": "Absorbance", "values": [-10,0,10,20,30,40], "labelExpr": "datum.value === 40 ? '40x10⁻³' : '' + datum.value", "tickSize": 6, "labelPadding": 2, "minExtent": 76, "maxExtent": 76, "titlePadding": 4}}
   },
   "layer": [
     {"data": {"name": "p4"}, "mark": {"type": "line", "color": "#000", "strokeWidth": 1.3}},
     {"data": {"values": [{"w": 1994, "a": 14.8, "label": "Methane Conversion: 4%"}]}, "mark": {"type": "text", "align": "left", "baseline": "middle", "fontSize": 13, "color": "#222"}, "encoding": {"text": {"field": "label"}}},
     {"data": {"values": [{"w": 3602, "a": 10.2, "label": "3,734 cm⁻¹"}]}, "mark": {"type": "text", "align": "left", "baseline": "middle", "fontSize": 12.5, "color": "#222"}, "encoding": {"text": {"field": "label"}}},
     {"data": {"values": [{"w":3767,"a":8.6,"w2":3743,"a2":3.5}]}, "mark": {"type": "rule", "color": "#222", "strokeWidth": 1}, "encoding": {"x2": {"field": "w2"}, "y2": {"field": "a2"}}}
   ]
  }
 ], "spacing": 130, "bounds": "flush"}
]
}
